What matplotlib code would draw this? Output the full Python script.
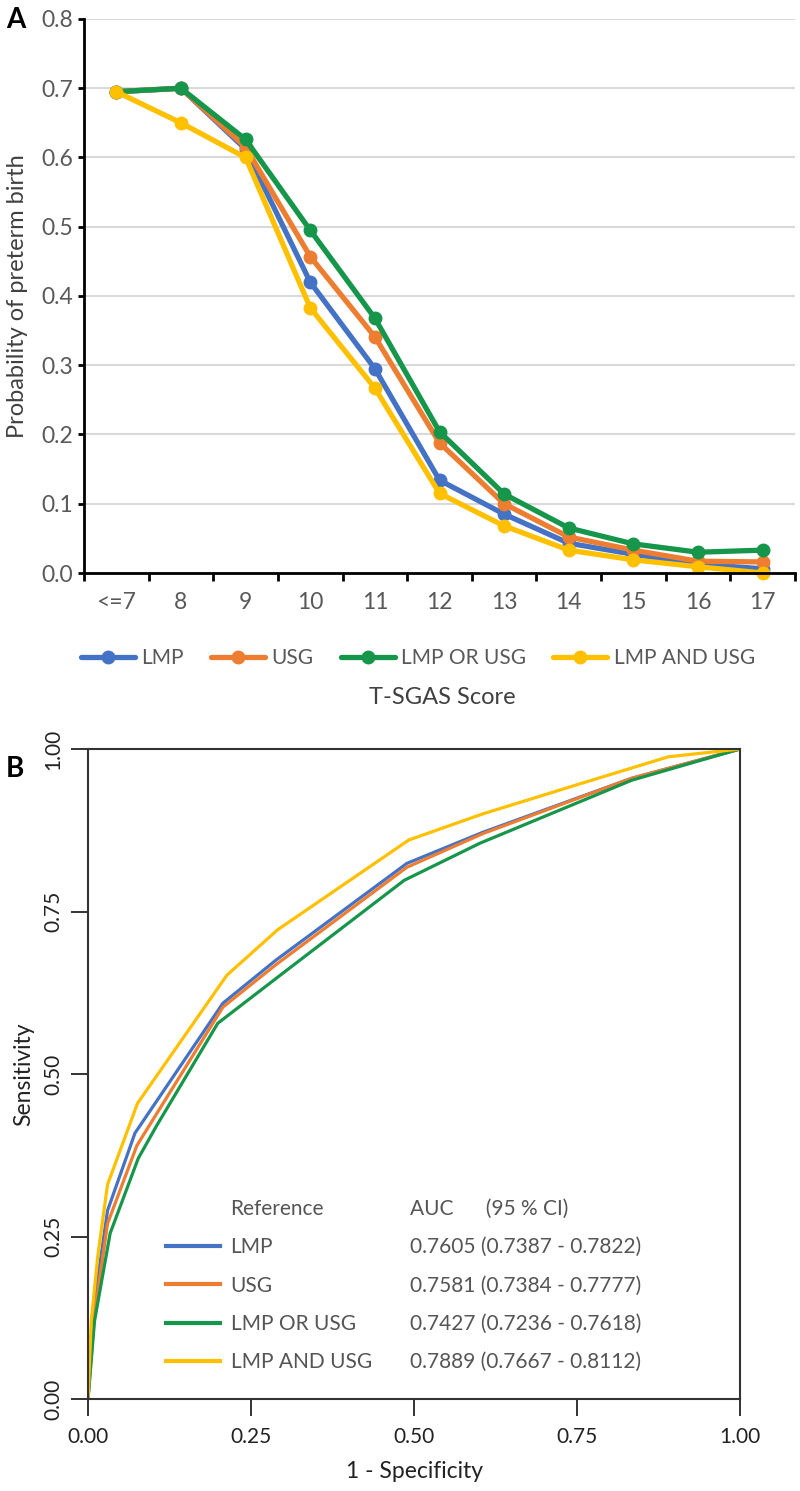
import matplotlib
matplotlib.use("Agg")
import matplotlib.pyplot as plt
from matplotlib.lines import Line2D
import numpy as np

plt.rcParams['font.family'] = ['Lato', 'DejaVu Sans']

# ---- panel A data: probability of preterm birth by T-SGAS score
scores = ['<=7', '8', '9', '10', '11', '12', '13', '14', '15', '16', '17']
p_lmp = [0.695, 0.700, 0.612, 0.420, 0.295, 0.134, 0.085, 0.043, 0.027, 0.013, 0.006]
p_usg = [0.695, 0.700, 0.615, 0.457, 0.341, 0.188, 0.100, 0.052, 0.033, 0.017, 0.016]
p_or = [0.695, 0.700, 0.626, 0.495, 0.368, 0.204, 0.114, 0.065, 0.042, 0.030, 0.033]
p_and = [0.695, 0.650, 0.600, 0.383, 0.267, 0.115, 0.068, 0.033, 0.019, 0.009, 0.000]

# ---- panel B data: ROC curves (1 - specificity, sensitivity)
fpr_lmp = [0, 0.01, 0.03, 0.072, 0.207, 0.288, 0.489, 0.606, 0.834, 1]
tpr_lmp = [0, 0.15, 0.29, 0.409, 0.609, 0.675, 0.824, 0.872, 0.955, 1]
fpr_usg = [0, 0.01, 0.03, 0.075, 0.207, 0.288, 0.489, 0.606, 0.834, 1]
tpr_usg = [0, 0.13, 0.27, 0.390, 0.603, 0.668, 0.818, 0.870, 0.955, 1]
fpr_or = [0, 0.01, 0.034, 0.077, 0.105, 0.199, 0.291, 0.485, 0.601, 0.834, 1]
tpr_or = [0, 0.12, 0.255, 0.370, 0.420, 0.578, 0.649, 0.798, 0.855, 0.952, 1]
fpr_and = [0, 0.005, 0.015, 0.03, 0.076, 0.213, 0.291, 0.492, 0.605, 0.75, 0.89, 1]
tpr_and = [0, 0.12, 0.22, 0.33, 0.455, 0.652, 0.722, 0.860, 0.900, 0.945, 0.988, 1]

names = ['LMP', 'USG', 'LMP OR USG', 'LMP AND USG']
auc_text = ['0.7605 (0.7387 - 0.7822)', '0.7581 (0.7384 - 0.7777)',
            '0.7427 (0.7236 - 0.7618)', '0.7889 (0.7667 - 0.8112)']
colors = ['#4472C4', '#ED7D31', '#16964A', '#FFC000']

W, H = 800, 1491
fig = plt.figure(figsize=(W / 100, H / 100), dpi=100)

def fx(px):
    return px / W

def fy(py):
    return 1 - py / H

# ================= panel A =================
ax1 = fig.add_axes([fx(84), fy(573), fx(795 - 84), (573 - 19) / H])
xs = np.arange(len(scores))
handles = []
for vals, c, n in zip([p_lmp, p_usg, p_or, p_and], colors, names):
    h, = ax1.plot(xs, vals, color=c, lw=3.8, marker='o', ms=9, label=n,
                  solid_capstyle='round', clip_on=False)
    handles.append(h)

ax1.set_xlim(-0.5, len(scores) - 0.5)
ax1.set_ylim(0, 0.8)
ax1.set_yticks(np.arange(0, 0.81, 0.1))
ax1.set_yticklabels(['%.1f' % v for v in np.arange(0, 0.81, 0.1)])
ax1.set_xticks(xs)
ax1.set_xticklabels(scores)
ax1.set_xticks(np.arange(-0.5, len(scores)), minor=True)
ax1.tick_params(axis='x', which='major', length=0, pad=14, labelsize=16.5, colors='#595959')
ax1.tick_params(axis='x', which='minor', length=6, width=2, color='black')
ax1.tick_params(axis='y', length=4, width=2, pad=4, labelsize=16.5, labelcolor='#595959')
ax1.grid(axis='y', color='#D9D9D9', lw=1.5)
ax1.set_axisbelow(True)
for s in ['top', 'right']:
    ax1.spines[s].set_visible(False)
for s in ['left', 'bottom']:
    ax1.spines[s].set_linewidth(2)
    ax1.spines[s].set_color('black')
ax1.set_ylabel('Probability of preterm birth', fontsize=17, color='#404040')
ax1.yaxis.set_label_coords((28 - 84) / (795 - 84), 0.5)

fig.legend(handles=handles, ncol=4, loc='center', bbox_to_anchor=(fx(418), fy(658)),
           frameon=False, fontsize=15, handlelength=2.6, handletextpad=0.3,
           columnspacing=1.3, labelcolor='#595959')
fig.text(fx(442), fy(697), 'T-SGAS Score', fontsize=17, color='#404040',
         ha='center', va='center')
fig.text(fx(16), fy(20), 'A', fontsize=20, fontweight='bold', ha='center', va='center')

# ================= panel B =================
ax2 = fig.add_axes([fx(88), fy(1399), fx(740 - 88), (1399 - 749) / H])
roc = [(fpr_lmp, tpr_lmp), (fpr_usg, tpr_usg), (fpr_or, tpr_or), (fpr_and, tpr_and)]
for (fp, tp), c in zip(roc, colors):
    ax2.plot(fp, tp, color=c, lw=2.3)
ax2.set_xlim(0, 1)
ax2.set_ylim(0, 1)
ticks = [0, 0.25, 0.5, 0.75, 1.0]
ax2.set_xticks(ticks)
ax2.set_yticks(ticks)
ax2.set_xticklabels(['%.2f' % t for t in ticks])
ax2.set_yticklabels(['%.2f' % t for t in ticks], rotation=90, va='center')
ax2.tick_params(length=12, width=1.4, color='#333333', labelsize=15, labelcolor='#222222')
ax2.tick_params(axis='x', pad=8)
ax2.tick_params(axis='y', pad=6)
for s in ax2.spines.values():
    s.set_linewidth(1.5)
    s.set_color('#333333')
ax2.set_xlabel('1 - Specificity', fontsize=16.5, color='#222222', labelpad=10)
ax2.set_ylabel('Sensitivity', fontsize=16.5, color='#222222', labelpad=6)

leg_handles = [Line2D([], [], color='none')] + \
    [Line2D([], [], color=c, lw=3) for c in colors]
leg1 = ax2.legend(leg_handles, ['Reference'] + names, loc='upper left',
                  bbox_to_anchor=(fx(166), fy(1199)), bbox_transform=fig.transFigure,
                  frameon=False, fontsize=15, handlelength=2.6, handletextpad=0.5,
                  labelspacing=0.88, borderpad=0, borderaxespad=0, labelcolor='#555555')
ax2.add_artist(leg1)
blank = [Line2D([], [], color='none') for _ in range(5)]
ax2.legend(blank, ['AUC      (95 % CI)'] + auc_text, loc='upper left',
           bbox_to_anchor=(fx(410), fy(1199)), bbox_transform=fig.transFigure,
           frameon=False, fontsize=15, handlelength=0, handletextpad=0,
           labelspacing=0.88, borderpad=0, borderaxespad=0, labelcolor='#555555')

fig.text(fx(15), fy(769), 'B', fontsize=20, fontweight='bold', ha='center', va='center')

fig.savefig('out.png', dpi=100)
